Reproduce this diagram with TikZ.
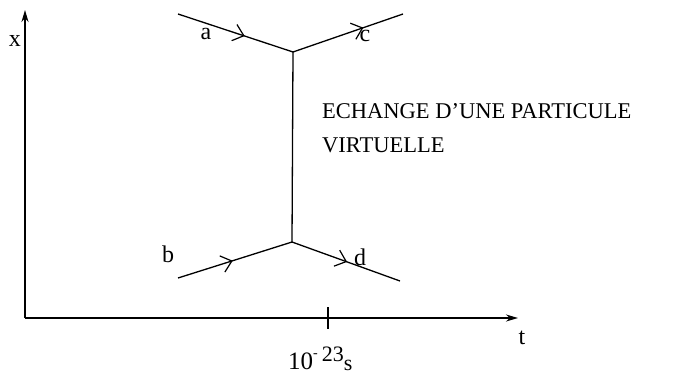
\documentclass[tikz,border=0pt]{standalone}
\usepackage{fontspec}
\setmainfont{Liberation Serif}
\usetikzlibrary{arrows.meta,decorations.markings}
\begin{document}
\begin{tikzpicture}[x=1pt,y=-1pt,
  line/.style={line width=1.3pt},
  axis/.style={line width=1.8pt,-{Stealth[length=12pt,width=7pt]}},
  barb/.style={decoration={markings,mark=at position #1 with {\arrow{Straight Barb[length=10pt,width=17pt,line width=1.2pt]}}},postaction=decorate},
  lbl/.style={font=\fontsize{24}{24}\selectfont,inner sep=0pt,anchor=base},
  txt/.style={font=\fontsize{22.5}{22.5}\selectfont,inner sep=0pt,anchor=base west}]
\useasboundingbox (0,0) rectangle (679,374);
\coordinate (O) at (25,318);
\coordinate (Y) at (25,10);
\coordinate (X) at (518,318);
\coordinate (A) at (178,14);
\coordinate (V1) at (293,52);
\coordinate (C) at (403,14);
\coordinate (V2) at (292,242);
\coordinate (B) at (178,278);
\coordinate (D) at (400,281);
\coordinate (T1) at (328,307);
\coordinate (T2) at (328,329);
\draw[axis] (O) -- (Y);
\draw[axis] (O) -- (X);
\draw[line,barb=0.58] (A) -- (V1);
\draw[line,barb=0.64] (V1) -- (C);
\draw[line] (V1) -- (V2);
\draw[line,barb=0.48] (B) -- (V2);
\draw[line,barb=0.51] (V2) -- (D);
\draw[line] (T1) -- (T2);
\node[lbl] (xl) at (15,47) {x};
\node[lbl] (tl) at (522,344) {t};
\node[lbl] (al) at (206,40) {a};
\node[lbl] (cl) at (365,42) {c};
\node[lbl] (bl) at (168,262) {b};
\node[lbl] (dl) at (360,265) {d};
\node[txt] (t1) at (322,119) {ECHANGE D’UNE PARTICULE};
\node[txt] (t2) at (322,153) {VIRTUELLE};
\node[inner sep=0pt,anchor=base west] (ts) at (288,369) {\fontsize{25}{25}\selectfont 10\raisebox{12pt}{\fontsize{14}{14}\selectfont -}\hspace{4pt}\raisebox{8pt}{\fontsize{22}{22}\selectfont 23}\raisebox{-1.5pt}{\fontsize{22}{22}\selectfont s}};
\end{tikzpicture}
\end{document}
